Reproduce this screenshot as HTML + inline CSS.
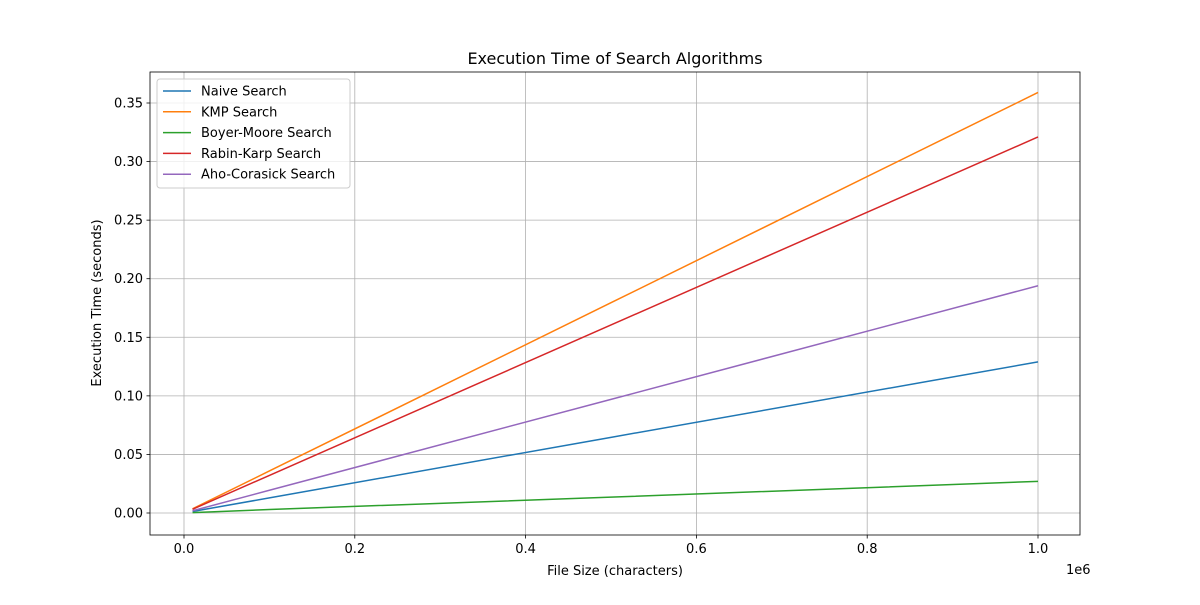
<!DOCTYPE html>
<html><head><meta charset="utf-8"><style>
body{margin:0;background:#fff;font-family:"Liberation Sans","DejaVu Sans",sans-serif;}
</style></head><body>
<svg id="chart" width="1200" height="600" xmlns="http://www.w3.org/2000/svg" font-family="DejaVu Sans, Liberation Sans, sans-serif">
<rect width="1200" height="600" fill="#fff"/>
<g id="grid"></g>
<g id="series"></g>
<g id="axes"></g>
<text x="615" y="64" text-anchor="middle" font-size="16">Execution Time of Search Algorithms</text>
<text x="615" y="575" text-anchor="middle" font-size="13">File Size (characters)</text>
<text x="1066" y="574" font-size="13">1e6</text>
<text transform="translate(101,303) rotate(-90)" text-anchor="middle" font-size="13">Execution Time (seconds)</text>
<g id="legend"></g>
</svg>
<script>
const xs=[10000,100000,500000,1000000];
const seriesNames=["Naive Search","KMP Search","Boyer-Moore Search","Rabin-Karp Search","Aho-Corasick Search"];
const naive=[0.0013,0.0129,0.0646,0.129];
const kmp=[0.0036,0.0359,0.1795,0.359];
const bm=[0.0003,0.0030,0.0135,0.027];
const rk=[0.0032,0.0321,0.1605,0.321];
const aho=[0.0019,0.0194,0.0970,0.194];
const xTicks=[0,0.2,0.4,0.6,0.8,1.0];
const xTickLabels=["0.0","0.2","0.4","0.6","0.8","1.0"];
const yTicks=[0,0.05,0.1,0.15,0.2,0.25,0.3,0.35];
const yTickLabels=["0.00","0.05","0.10","0.15","0.20","0.25","0.30","0.35"];
const colors=["#1f77b4","#ff7f0e","#2ca02c","#d62728","#9467bd"];
const L=150,R=1080,T=72,B=535;
const X=v=>184+(v/1e6)*854;
const Y=v=>513-v*(410/0.35);
const NS="http://www.w3.org/2000/svg";
function mk(tag,attrs,parent){const e=document.createElementNS(NS,tag);for(const k in attrs)e.setAttribute(k,attrs[k]);parent.appendChild(e);return e;}
const grid=document.getElementById('grid'),axes=document.getElementById('axes'),ser=document.getElementById('series'),leg=document.getElementById('legend');
xTicks.forEach((t,i)=>{const x=X(t*1e6);
 const g=mk('line',{x1:x,x2:x,y1:T,y2:B,stroke:'#b0b0b0','stroke-width':0.8},grid);
 
 mk('line',{x1:x,x2:x,y1:B,y2:B+3.5,stroke:'#000','stroke-width':0.8},axes);
 const tx=mk('text',{x:x,y:B+18,'text-anchor':'middle','font-size':13},axes);tx.textContent=xTickLabels[i];
 });
yTicks.forEach((t,i)=>{const y=Y(t);
 const g=mk('line',{x1:L,x2:R,y1:y,y2:y,stroke:'#b0b0b0','stroke-width':0.8},grid);
 
 mk('line',{x1:L-3.5,x2:L,y1:y,y2:y,stroke:'#000','stroke-width':0.8},axes);
 const tx=mk('text',{x:L-7,y:y+4.5,'text-anchor':'end','font-size':13},axes);tx.textContent=yTickLabels[i];
 });
const frame=mk('rect',{x:L,y:T,width:R-L,height:B-T,fill:'none',stroke:'#000','stroke-width':0.8},axes);

[naive,kmp,bm,rk,aho].forEach((d,i)=>{
 const p=mk('polyline',{points:d.map((v,j)=>X(xs[j])+','+Y(v)).join(' '),fill:'none',stroke:colors[i],'stroke-width':1.5},ser);
 
 });
const lb=mk('rect',{x:157,y:79,width:193,height:109,rx:3,fill:'#fff','fill-opacity':0.8,stroke:'#ccc'},leg);

seriesNames.forEach((n,i)=>{const y=91+i*20.8;
 mk('line',{x1:163,x2:191,y1:y,y2:y,stroke:colors[i],'stroke-width':1.5},leg);
 const t=mk('text',{x:201,y:y+4.5,'font-size':13},leg);t.textContent=n;
 });
</script>
</body></html>
